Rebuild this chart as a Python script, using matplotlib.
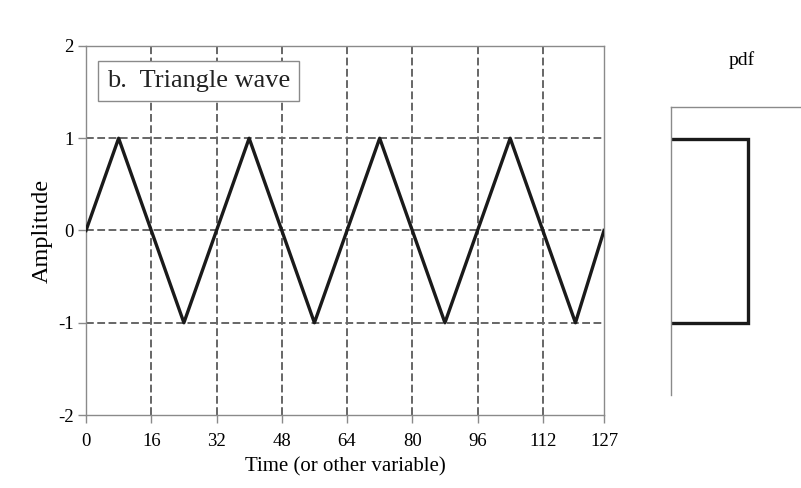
import numpy as np
import matplotlib
matplotlib.use('Agg')
import matplotlib.pyplot as plt

plt.rcParams['font.family'] = ['Liberation Serif', 'DejaVu Serif']
plt.rcParams['axes.unicode_minus'] = False

# data
t = [0, 8, 24, 40, 56, 72, 88, 104, 120, 127]
amp = [0, 1, -1, 1, -1, 1, -1, 1, -1, 0]
x_ticks = [0, 16, 32, 48, 64, 80, 96, 112, 127]
y_ticks = [-2, -1, 0, 1, 2]
grid_x = [16, 32, 48, 64, 80, 96, 112]
grid_y = [-1, 0, 1]
pdf_val = [0, 0.5, 0.5, 0]
pdf_amp = [1, 1, -1, -1]

W, H = 801, 488
fig = plt.figure(figsize=(W / 100, H / 100), dpi=100)

spine_c = '#8a8a8a'
grid_c = '#666666'

# main panel
ax = fig.add_axes([86 / W, 1 - 415 / H, (604 - 86) / W, (415 - 46) / H])
for g in grid_x:
    ax.axvline(g, color=grid_c, lw=1.4, ls=(0, (4, 1.8)), zorder=1)
for g in grid_y:
    ax.axhline(g, color=grid_c, lw=1.4, ls=(0, (4, 1.8)), zorder=1)
ax.plot(t, amp, color='#1a1a1a', lw=2.4, zorder=3)
ax.set_xlim(0, 127)
ax.set_ylim(-2, 2)
ax.set_xticks(x_ticks)
ax.set_yticks(y_ticks)
for s in ax.spines.values():
    s.set_color(spine_c)
    s.set_linewidth(1.0)
ax.tick_params(direction='out', length=6, width=1, color=spine_c,
               labelsize=13.5, pad=3)
ax.tick_params(axis='x', pad=7)
ax.set_xlabel('Time (or other variable)', fontsize=15, labelpad=5)
ax.set_ylabel('Amplitude', fontsize=17.5, labelpad=4)
ax.text(0.04, 0.935, 'b.  Triangle wave', transform=ax.transAxes,
        fontsize=19, va='top', ha='left', color='#222222',
        bbox=dict(boxstyle='square,pad=0.34', fc='white', ec=spine_c, lw=1),
        zorder=5)

# pdf panel
top_px, bot_px = 107, 395
ppu = (415 - 46) / 4.0
y_top = (231 - top_px) / ppu
y_bot = (231 - bot_px) / ppu
ax2 = fig.add_axes([671 / W, 1 - bot_px / H, (W - 671) / W, (bot_px - top_px) / H])
ax2.plot(pdf_val, pdf_amp, color='#1a1a1a', lw=2.4, solid_joinstyle='miter')
ax2.set_ylim(y_bot, y_top)
ax2.set_xlim(0, 0.5 * (W - 671) / (748 - 671))
ax2.set_xticks([])
ax2.set_yticks([])
ax2.spines['right'].set_visible(False)
ax2.spines['bottom'].set_visible(False)
for k in ['left', 'top']:
    ax2.spines[k].set_color(spine_c)
    ax2.spines[k].set_linewidth(1.0)
ax2.text((742 - 671) / (W - 671), 1 + (107 - 60) / (bot_px - top_px), 'pdf',
         transform=ax2.transAxes, ha='center', va='center', fontsize=14)

fig.savefig('out.png', dpi=100)
